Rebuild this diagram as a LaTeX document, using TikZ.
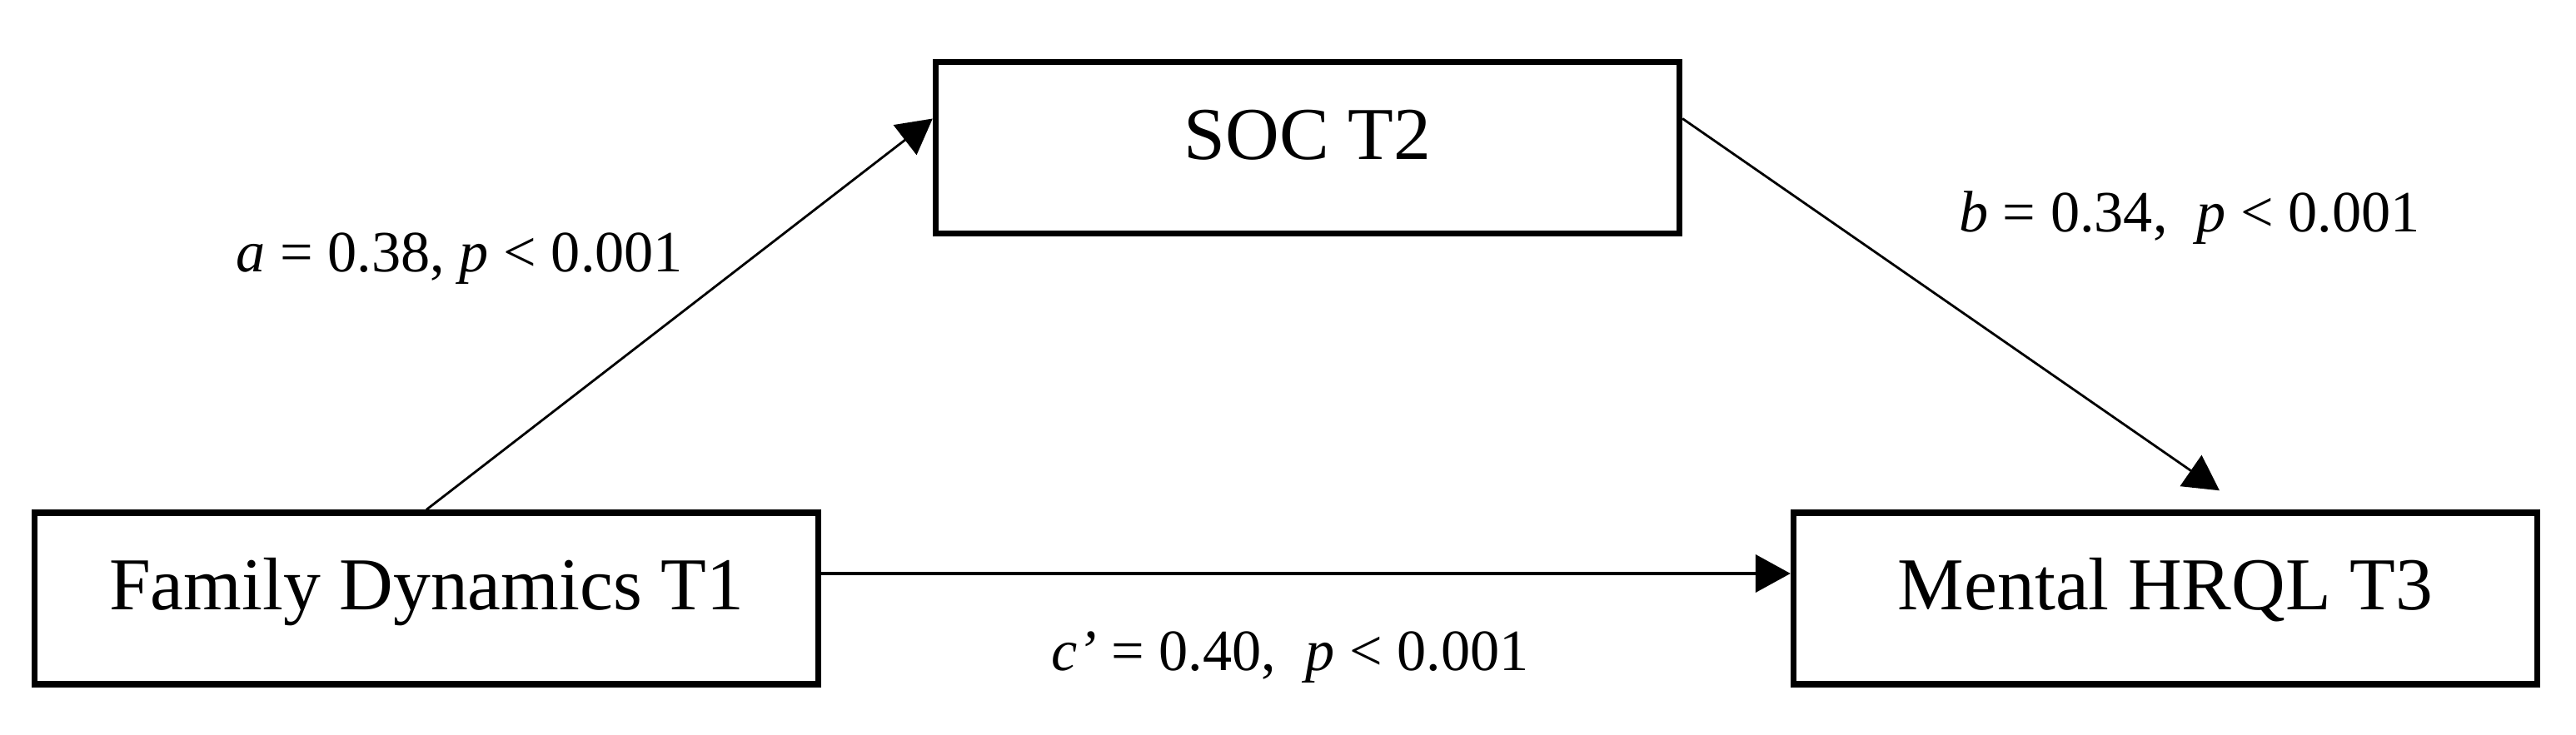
\documentclass[tikz,border=0pt]{standalone}
\usepackage{fontspec}
\setmainfont{Liberation Serif}
\usepackage{tikz}
\usetikzlibrary{arrows.meta}

\begin{document}
\begin{tikzpicture}[var/.style={draw,line width=2.1pt,minimum height=2.06cm,text height=0.6cm,text depth=0.32cm,font=\fontsize{25.5}{30}\selectfont},
  coef/.style={anchor=base,font=\fontsize{20}{24}\selectfont},
  >={Triangle[length=0.42cm,width=0.45cm]}]
\useasboundingbox (0,0) rectangle (30.93,8.83);
  \node[var,minimum width=9.41cm] (fam)  at (5.12,1.64)  {Family Dynamics T1};
  \node[var,minimum width=8.93cm] (soc)  at (15.70,7.055) {SOC T2};
  \node[var,minimum width=8.93cm] (hrql) at (26.00,1.64) {Mental HRQL T3};

  \node[coef] (a) at (5.52,5.56)  {\textit{a} = 0.38, \textit{p} < 0.001};
  \node[coef] (b) at (26.29,6.04) {\textit{b} = 0.34,\ \ \textit{p} < 0.001};
  \node[coef] (c) at (15.49,0.77) {\textit{c'} = 0.40,\ \ \textit{p} < 0.001};

  \coordinate (btip) at ([xshift=6.5mm,yshift=2.3mm]hrql.north);

  \path[->,line width=0.8pt]
        (fam.north) edge ([yshift=3.5mm]soc.west)
        ([yshift=3.5mm]soc.east) edge (btip);
  \path[->,line width=1.2pt]
        ([yshift=3mm]fam.east) edge ([yshift=3mm]hrql.west);
\end{tikzpicture}
\end{document}
